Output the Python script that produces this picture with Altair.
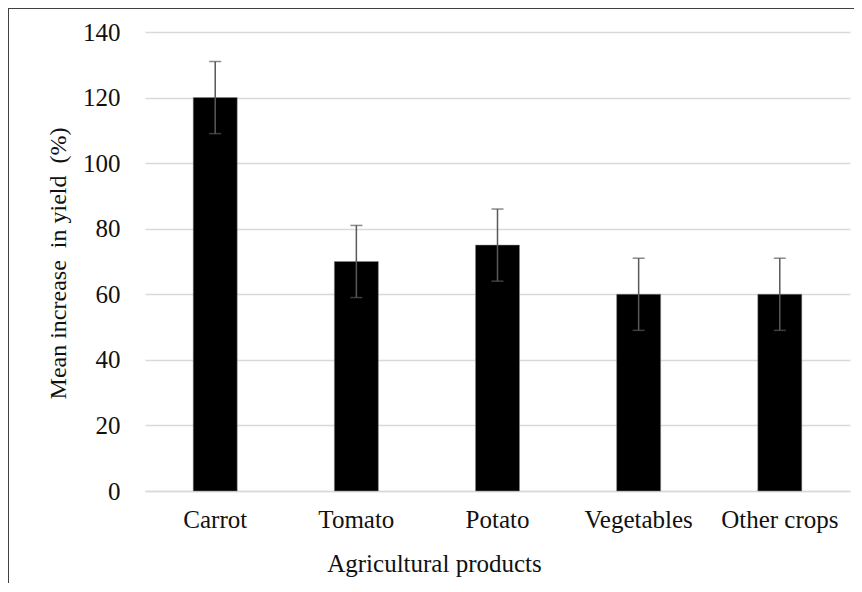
import altair as alt
import pandas as pd

categories = ["Carrot", "Tomato", "Potato", "Vegetables", "Other crops"]
values = [120, 70, 75, 60, 60]
errors = [11, 11, 11, 11, 11]

df = pd.DataFrame({
    "product": categories,
    "value": values,
    "lo": [v - e for v, e in zip(values, errors)],
    "hi": [v + e for v, e in zip(values, errors)],
})

FONT = "Liberation Serif"
FS = 25

x_enc = alt.X(
    "product:N", sort=categories,
    scale=alt.Scale(paddingInner=0.685, paddingOuter=0.34),
    axis=alt.Axis(
        title="Agricultural products", labelAngle=0, labelFont=FONT, labelFontSize=FS,
        labelColor="#111", labelPadding=16, ticks=False, domain=True, domainColor="#d9d9d9",
        domainWidth=1.5, grid=False,
        titleFont=FONT, titleFontSize=FS, titleFontWeight="normal", titleColor="#111",
        titleX=289, titleY=72, titleAlign="center", titleBaseline="middle",
    ),
)

base = alt.Chart(df)

bars = base.mark_bar(color="#000000", size=44, stroke="#888", strokeWidth=0.5).encode(
    x=x_enc,
    y=alt.Y(
        "value:Q", scale=alt.Scale(domain=[0, 140]),
        axis=alt.Axis(
            values=[0, 20, 40, 60, 80, 100, 120, 140],
            title="Mean increase\u00a0 in yield\u00a0 (%)",
            labelFont=FONT, labelFontSize=FS, labelColor="#111", labelPadding=25,
            ticks=False, domain=False, grid=True, gridColor="#d9d9d9", gridWidth=1.5,
            titleFont=FONT, titleFontSize=FS - 1, titleFontWeight="normal", titleColor="#111",
            titleAngle=-90, titleX=-87, titleY=231, titleAlign="center", titleBaseline="middle",
        ),
    ),
)

rules = base.mark_rule(color="#595959", strokeWidth=1.5).encode(
    x=alt.X("product:N", sort=categories), y="lo:Q", y2="hi:Q"
)
cap_hi = base.mark_tick(color="#595959", size=12, thickness=1.5, orient="horizontal").encode(
    x=alt.X("product:N", sort=categories), y="hi:Q"
)
cap_lo = base.mark_tick(color="#595959", size=12, thickness=1.5, orient="horizontal").encode(
    x=alt.X("product:N", sort=categories), y="lo:Q"
)

frame_df = pd.DataFrame({"k": [0]})
frame_top = alt.Chart(frame_df).mark_rule(color="#404040", strokeWidth=2).encode(
    x=alt.value(-137), x2=alt.value(720), y=alt.value(-24)
)
frame_left = alt.Chart(frame_df).mark_rule(color="#404040", strokeWidth=2).encode(
    x=alt.value(-137), y=alt.value(-24), y2=alt.value(600)
)

chart = alt.layer(bars, rules, cap_hi, cap_lo, frame_top, frame_left).properties(
    width=705, height=459,
    autosize=alt.AutoSizeParams(type="none"),
    padding={"left": 137, "top": 24, "right": 4, "bottom": 92},
    background="white",
).configure_view(stroke=None)

chart.save("out.html", embed_options={"renderer": "svg", "actions": False})
